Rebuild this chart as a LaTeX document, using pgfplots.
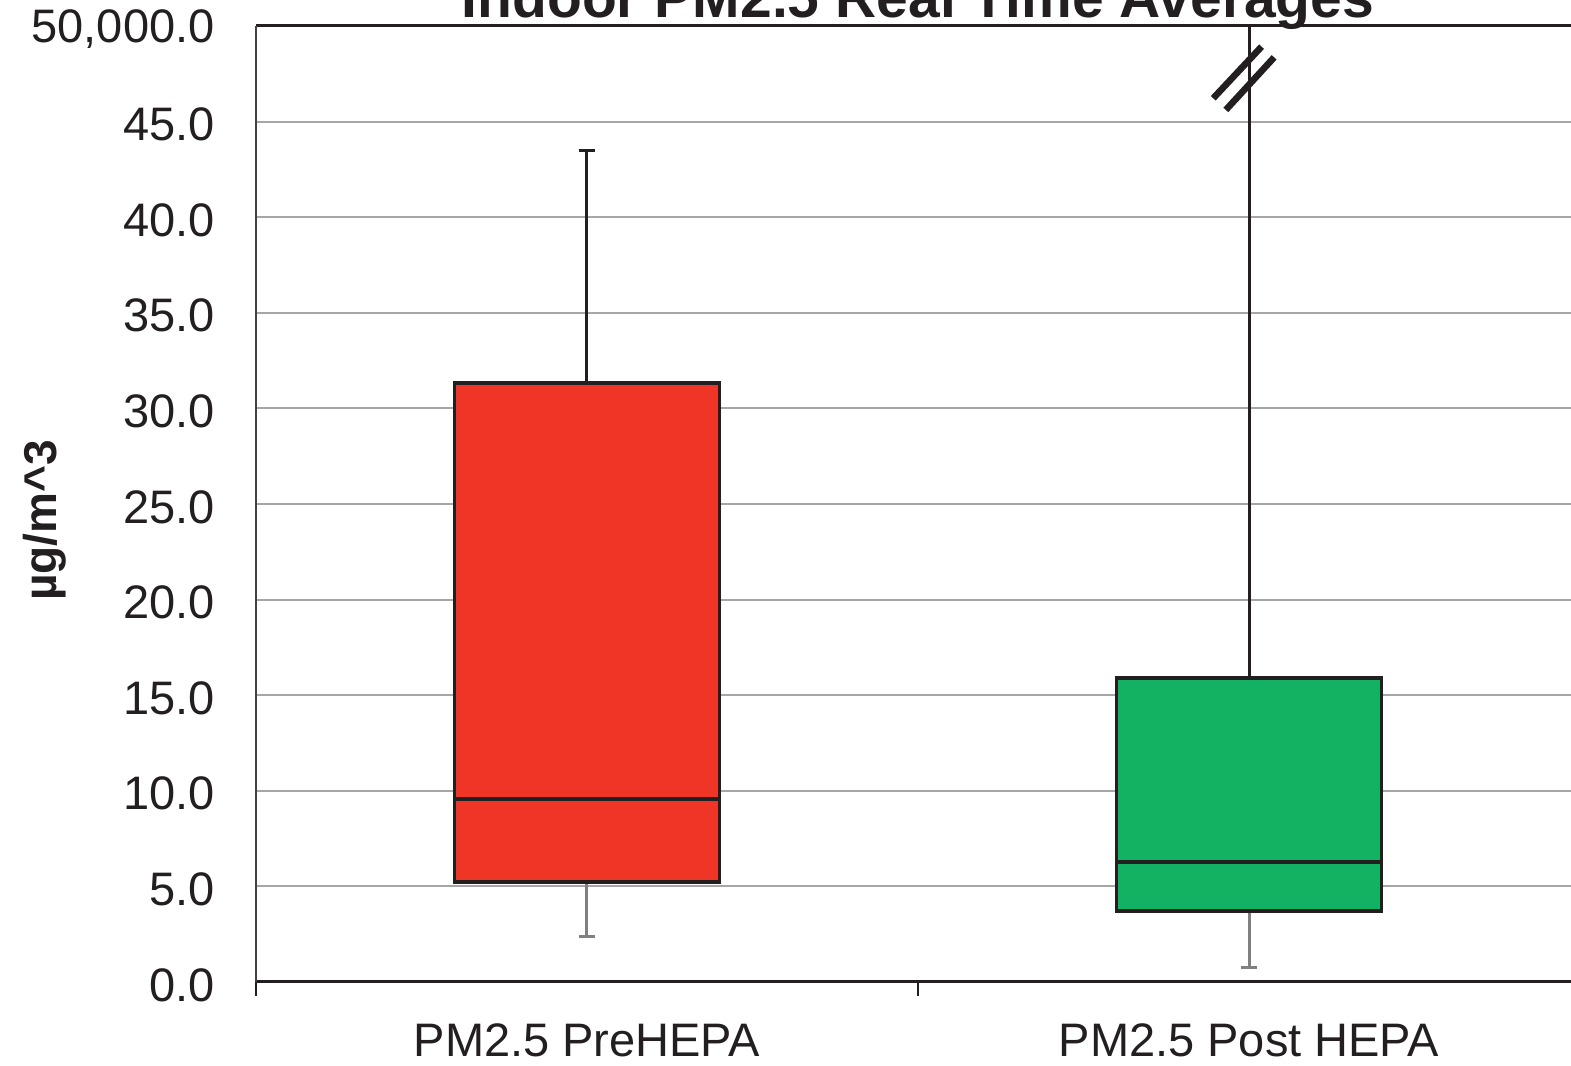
\documentclass[border=0pt]{standalone}
\usepackage{fontspec}
\setmainfont{Liberation Sans}
\usepackage{pgfplots}
\pgfplotsset{compat=1.18}
\definecolor{boxred}{HTML}{EE3526}
\definecolor{boxgreen}{HTML}{13B263}
\definecolor{outl}{HTML}{231F20}
\definecolor{gridgray}{HTML}{A6A6A6}
\definecolor{whiskgray}{HTML}{808080}
\begin{document}
\begin{tikzpicture}
\begin{axis}[
  scale only axis,
  width=662pt, height=478pt,
  xmin=-0.5, xmax=1.5, ymin=0, ymax=50,
  axis lines=box,
  separate axis lines,
  x axis line style={outl, line width=1.5pt},
  y axis line style={outl!85, line width=1pt},
  xtick={-0.5,0.5,1.5},
  xticklabels={},
  extra x ticks={0,1},
  extra x tick labels={PM2.5 PreHEPA, PM2.5 Post HEPA},
  extra x tick style={major tick length=0pt, xticklabel style={anchor=north, inner sep=0pt, yshift=-20.5pt}},
  xtick pos=bottom,
  tick align=outside,
  x tick style={outl, line width=1.4pt},
  major tick length=7pt,
  ytick={0,5,...,50},
  yticklabels={0.0,5.0,10.0,15.0,20.0,25.0,30.0,35.0,40.0,45.0,{50,000.0}},
  y tick style={draw=none},
  ytick pos=left,
  yticklabel style={anchor=east, inner sep=0pt, xshift=-13.5pt, yshift=-1.5pt},
  ymajorgrids,
  grid style={gridgray, line width=1pt},
  ticklabel style={font=\fontsize{23.5}{28}\selectfont, text=outl},
  ylabel={\textbf{µg/m\textasciicircum 3}},
  ylabel style={at={(axis description cs:0,0.483)}, anchor=center, yshift=105.5pt, font=\fontsize{23}{28}\selectfont, text=outl},
  title={\textbf{Indoor PM2.5 Real Time Averages}},
  title style={at={(axis description cs:0.5,1)}, anchor=base, yshift=-2pt, font=\fontsize{28.5}{32}\selectfont, text=outl},
  clip=false,
]
% Pre HEPA whiskers
\addplot[outl, line width=1.5pt] coordinates {(0,31.33) (0,43.5)};
\addplot[outl, line width=1.5pt] coordinates {(-0.012,43.5) (0.012,43.5)};
\addplot[whiskgray, line width=1.5pt] coordinates {(0,5.23) (0,2.4)};
\addplot[whiskgray, line width=1.5pt] coordinates {(-0.012,2.4) (0.012,2.4)};
% Post HEPA whiskers
\addplot[outl, line width=1.5pt] coordinates {(1,15.9) (1,50)};
\addplot[whiskgray, line width=1.5pt] coordinates {(1,3.71) (1,0.78)};
\addplot[whiskgray, line width=1.5pt] coordinates {(0.988,0.78) (1.012,0.78)};
% boxes
\addplot[draw=outl, line width=1.75pt, fill=boxred] coordinates {(-0.2,5.23) (0.2,5.23) (0.2,31.33) (-0.2,31.33)} -- cycle;
\addplot[outl, line width=1.75pt] coordinates {(-0.2,9.57) (0.2,9.57)};
\addplot[draw=outl, line width=1.75pt, fill=boxgreen] coordinates {(0.8,3.71) (1.2,3.71) (1.2,15.9) (0.8,15.9)} -- cycle;
\addplot[outl, line width=1.75pt] coordinates {(0.8,6.28) (1.2,6.28)};
% axis break marks
\addplot[outl, line width=3.3pt] coordinates {(0.946,46.22) (1.019,48.92)};
\addplot[outl, line width=3.3pt] coordinates {(0.965,45.61) (1.038,48.36)};
\end{axis}
\pgfresetboundingbox
\useasboundingbox (-128pt,-42pt) rectangle (657.5pt,491pt);
\end{tikzpicture}
\end{document}
